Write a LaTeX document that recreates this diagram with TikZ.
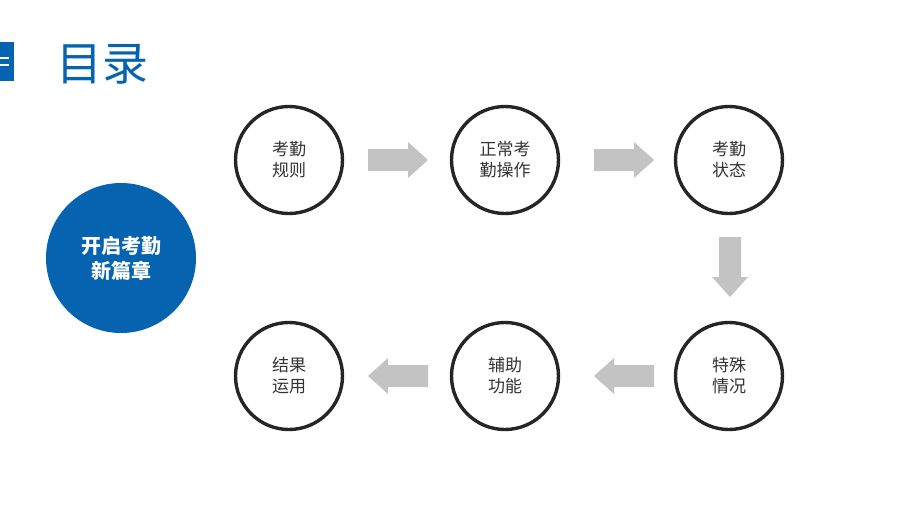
\documentclass[tikz,border=0pt]{standalone}
\usepackage{fontspec}
\newfontfamily\cjk{Noto Sans CJK SC}
\usetikzlibrary{calc}
\definecolor{mainblue}{HTML}{0563B0}
\definecolor{arrowgray}{HTML}{C3C3C3}
\definecolor{txt}{HTML}{333333}
\tikzset{
  stepcircle/.style={circle, draw=black!85, line width=3.4pt, minimum size=107pt, inner sep=0pt, align=center, font=\cjk\fontsize{17}{21}\selectfont, text=txt},
  blockarrow/.style={fill=arrowgray, draw=none},
}
\newcommand{\blockarrowpath}{(-30,-11) -- (10,-11) -- (10,-18) -- (30,0) -- (10,18) -- (10,11) -- (-30,11) -- cycle}
\begin{document}
\begin{tikzpicture}[x=1pt,y=-1pt]
\useasboundingbox (0,0) rectangle (920,517);
\fill[white] (0,0) rectangle (920,517);
% side tab
\fill[mainblue] (0,42) rectangle (14,81);
\draw[white, line width=2pt] (0,57.5) -- (9,57.5) (0,64.5) -- (9,64.5);
\node[anchor=west, inner sep=0pt, text=mainblue, font=\cjk\fontsize{46}{50}\selectfont] (title) at (56,64) {目录};
% main circle
\node[circle, fill=mainblue, minimum size=150pt, inner sep=0pt, align=center, text=white, font=\cjk\bfseries\fontsize{20}{25}\selectfont] (start) at (121,258) {开启考勤\\新篇章};
% steps
\node[stepcircle] (c1) at (289,160) {考勤\\规则};
\node[stepcircle] (c2) at (505,160) {正常考\\勤操作};
\node[stepcircle] (c3) at (729,160) {考勤\\状态};
\node[stepcircle] (c4) at (729,376) {特殊\\情况};
\node[stepcircle] (c5) at (505,376) {辅助\\功能};
\node[stepcircle] (c6) at (289,376) {结果\\运用};
% arrows
\coordinate (m1) at ($(c1)!0.5!(c2)+(1,0)$);
\coordinate (m2) at ($(c2)!0.5!(c3)+(7,0)$);
\coordinate (m3) at ($(c3)!0.5!(c4)+(1,-1)$);
\coordinate (m4) at ($(c4)!0.5!(c5)+(7,0)$);
\coordinate (m5) at ($(c5)!0.5!(c6)+(1,0)$);
\fill[blockarrow, shift={(m1)}] \blockarrowpath;
\fill[blockarrow, shift={(m2)}] \blockarrowpath;
\fill[blockarrow, shift={(m3)}, rotate=-90] \blockarrowpath;
\fill[blockarrow, shift={(m4)}, rotate=180] \blockarrowpath;
\fill[blockarrow, shift={(m5)}, rotate=180] \blockarrowpath;
\end{tikzpicture}
\end{document}
